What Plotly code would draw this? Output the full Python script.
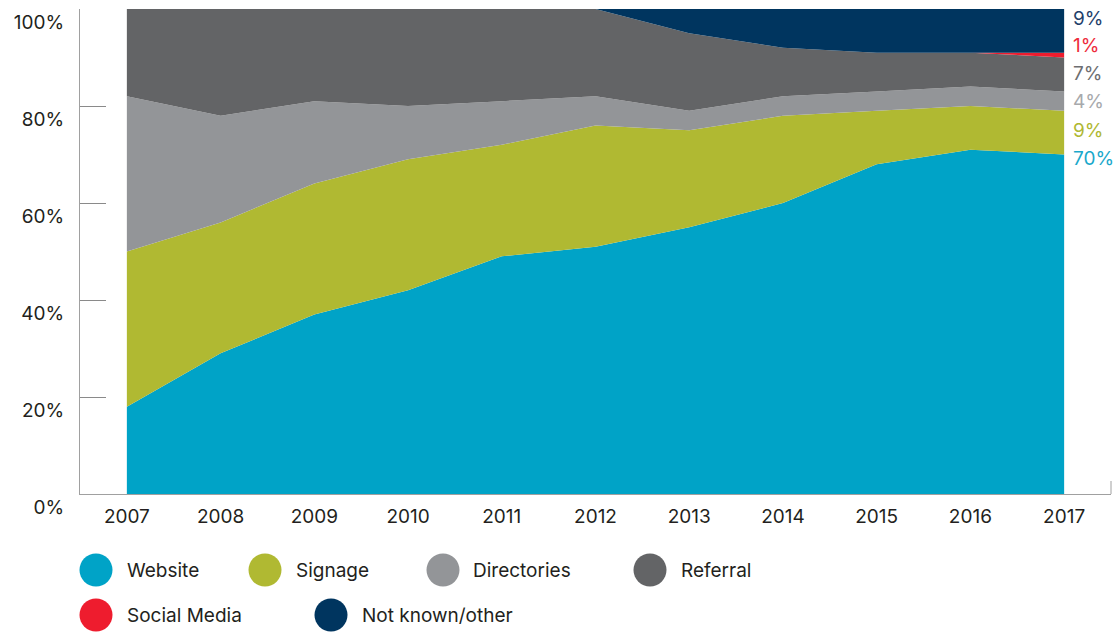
import plotly.graph_objects as go

# Share of enquiries by source, 2007-2017 (percent of total)
years = [2007, 2008, 2009, 2010, 2011, 2012, 2013, 2014, 2015, 2016, 2017]
website = [18, 29, 37, 42, 49, 51, 55, 60, 68, 71, 70]
signage = [32, 27, 27, 27, 23, 25, 20, 18, 11, 9, 9]
directories = [32, 22, 17, 11, 9, 6, 4, 4, 4, 4, 4]
referral = [18, 22, 19, 20, 19, 18, 16, 10, 8, 7, 7]
social_media = [0, 0, 0, 0, 0, 0, 0, 0, 0, 0, 1]
not_known = [0, 0, 0, 0, 0, 0, 5, 8, 9, 9, 9]

series_names = ["Website", "Signage", "Directories", "Referral", "Social Media", "Not known/other"]
series_values = [website, signage, directories, referral, social_media, not_known]
fill_colors = ["#00A3C7", "#B0B932", "#939598", "#636466", "#EE1C2E", "#00355F"]
label_colors = ["#1AA8CB", "#AFB833", "#A7A9AC", "#6D6E71", "#EE2C3C", "#1F3F6B"]

y_ticks = [0, 20, 40, 60, 80, 100]
y_tick_text = [f"{v}%" for v in y_ticks]

FONT = "Inter"
TEXT = "#231F20"
W, H = 1119, 632
M_L, M_R, M_T, M_B = 80, 8, 9, 138
PW, PH = W - M_L - M_R, H - M_T - M_B


def px_x(x):
    return (x - M_L) / PW


def px_y(y):
    return (H - M_B - y) / PH


fig = go.Figure()
for name, vals, col in zip(series_names, series_values, fill_colors):
    fig.add_trace(go.Scatter(
        x=years, y=vals, name=name, mode="none", stackgroup="one",
        fillcolor=col, line=dict(width=0), hoverinfo="skip", showlegend=False,
    ))

annotations = []
shapes = []

# Final-year value labels on the right, stacked top-down
order = list(range(len(series_names)))[::-1]
for i, k in enumerate(order):
    annotations.append(dict(
        x=px_x(1071), y=px_y(18 + 28 * i), xref="paper", yref="paper",
        xanchor="left", yanchor="middle", showarrow=False,
        text=f"{series_values[k][-1]}%",
        font=dict(family=FONT, size=19, color=label_colors[k]),
    ))

# Legend drawn as large dots with labels
legend_items = [
    (0, 96, 125, 570), (1, 265, 294, 570), (2, 443, 471, 570), (3, 650, 679, 570),
    (4, 96, 125, 615), (5, 331, 360, 615),
]
for k, cx, tx, cy in legend_items:
    shapes.append(dict(
        type="circle", xref="paper", yref="paper",
        xsizemode="pixel", ysizemode="pixel",
        xanchor=px_x(cx), yanchor=px_y(cy),
        x0=-16.5, x1=16.5, y0=-16.5, y1=16.5,
        fillcolor=fill_colors[k], line=dict(width=0),
    ))
    annotations.append(dict(
        x=px_x(tx), y=px_y(cy), xref="paper", yref="paper",
        xanchor="left", yanchor="middle", showarrow=False,
        text=series_names[k], font=dict(family=FONT, size=19, color=TEXT),
    ))

# Short closing tick at the bottom-right corner of the frame
shapes.append(dict(
    type="line", xref="paper", yref="paper", x0=1, x1=1, y0=0, y1=13 / PH,
    line=dict(color="#A0A0A0", width=1),
))

fig.update_layout(
    width=W, height=H,
    margin=dict(l=M_L, r=M_R, t=M_T, b=M_B, pad=0),
    paper_bgcolor="white", plot_bgcolor="white",
    font=dict(family=FONT, size=19, color=TEXT),
    showlegend=False,
    annotations=annotations,
    shapes=shapes,
    xaxis=dict(
        range=[2006.5, 2017.5], tickvals=years, ticktext=[str(y) for y in years],
        showgrid=False, zeroline=False, showline=True, linecolor="#A0A0A0", linewidth=1,
        ticks="", ticklabelstandoff=5, fixedrange=True,
    ),
    yaxis=dict(
        range=[0, 100], tickvals=y_ticks, ticktext=y_tick_text,
        showgrid=False, zeroline=False, showline=True, linecolor="#A0A0A0", linewidth=1,
        ticks="inside", ticklen=26, tickcolor="#8A8A8A", tickwidth=1,
        ticklabelposition="outside bottom", ticklabelstandoff=11, fixedrange=True,
    ),
)

fig.write_html("out.html")
